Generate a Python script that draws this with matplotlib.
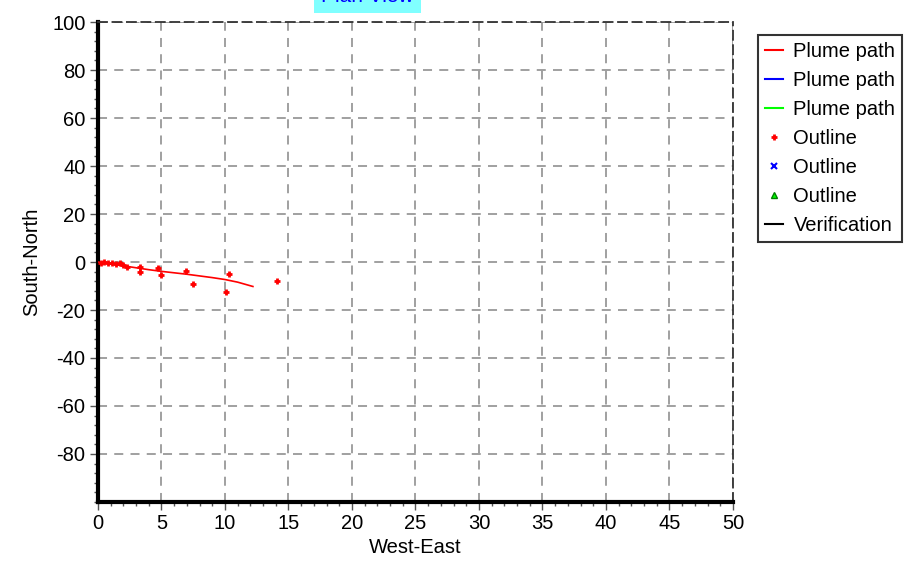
import matplotlib
matplotlib.use("Agg")
import matplotlib.pyplot as plt
from matplotlib.lines import Line2D
from matplotlib.ticker import MultipleLocator

plt.rcParams['font.family'] = ['Liberation Sans', 'DejaVu Sans']
plt.rcParams['axes.unicode_minus'] = False

# plume path (centre line)
path_x = [0, 1, 2, 3, 4, 5, 6, 7, 8, 9, 10, 11, 12.2]
path_y = [0, -0.8, -1.6, -2.4, -3.2, -3.9, -4.5, -5.1, -5.8, -6.5, -7.3, -8.4, -10.2]

# outline points
outline_x = [0.2, 0.5, 0.8, 1.1, 1.4, 1.7, 2.0, 2.3, 3.3, 3.3, 4.7, 5.0, 6.9, 7.5, 10.3, 10.1, 14.1]
outline_y = [-0.3, -0.2, -0.6, -0.3, -0.9, -0.5, -1.3, -2.0, -2.2, -4.0, -2.6, -5.6, -3.6, -9.2, -5.0, -12.5, -7.9]

legend_labels = ["Plume path", "Plume path", "Plume path", "Outline", "Outline", "Outline", "Verification"]

fig = plt.figure(figsize=(9.19, 5.72), dpi=100)
ax = fig.add_axes([0.1066, 0.1224, 0.6910, 0.8391])

ax.plot(path_x, path_y, color="red", lw=1.2, zorder=3)
ax.plot(outline_x, outline_y, ls="none", marker="+", color="red", ms=5, mew=2, zorder=3)

ax.set_xlim(0, 50)
ax.set_ylim(-100, 100)
ax.set_xticks(range(0, 51, 5))
ax.set_yticks(range(-80, 101, 20))
ax.xaxis.set_minor_locator(MultipleLocator(1))
ax.yaxis.set_minor_locator(MultipleLocator(4))
ax.tick_params(which="major", length=6, width=1, labelsize=14.5, color="#555555", pad=3)
ax.tick_params(which="minor", length=3, width=1, color="#555555")

ax.grid(True, which="major", color="#999999", ls=(0, (5, 4)), lw=1.3)

for s in ["left", "bottom"]:
    ax.spines[s].set_linewidth(3)
    ax.spines[s].set_color("black")
for s in ["top", "right"]:
    ax.spines[s].set_linestyle((0, (5, 3)))
    ax.spines[s].set_linewidth(1.3)
    ax.spines[s].set_color("#333333")

ax.set_xlabel("West-East", fontsize=14.5, labelpad=3)
ax.set_ylabel("South-North", fontsize=14.5, labelpad=8)

handles = [
    Line2D([], [], color="red", lw=1.5),
    Line2D([], [], color="blue", lw=1.5),
    Line2D([], [], color="lime", lw=1.5),
    Line2D([], [], color="red", ls="none", marker="+", ms=5, mew=2),
    Line2D([], [], color="blue", ls="none", marker="x", ms=4, mew=1.5),
    Line2D([], [], color="lime", ls="none", marker="^", ms=4, mec="green"),
    Line2D([], [], color="black", lw=1.5),
]
leg = fig.legend(handles, legend_labels, loc="upper left", bbox_to_anchor=(0.825, 0.939),
                 fontsize=14.5, frameon=True, fancybox=False, handlelength=0.9,
                 handletextpad=0.5, labelspacing=0.5, borderpad=0.35, borderaxespad=0)
leg.get_frame().set_edgecolor("black")
leg.get_frame().set_linewidth(1.5)

fig.text(0.40, 1.006, "Plan View", ha="center", va="center", fontsize=15, color="blue",
         bbox=dict(boxstyle="square,pad=0.35", facecolor="#80ffff", edgecolor="none"))

fig.savefig("out.png", dpi=100)
